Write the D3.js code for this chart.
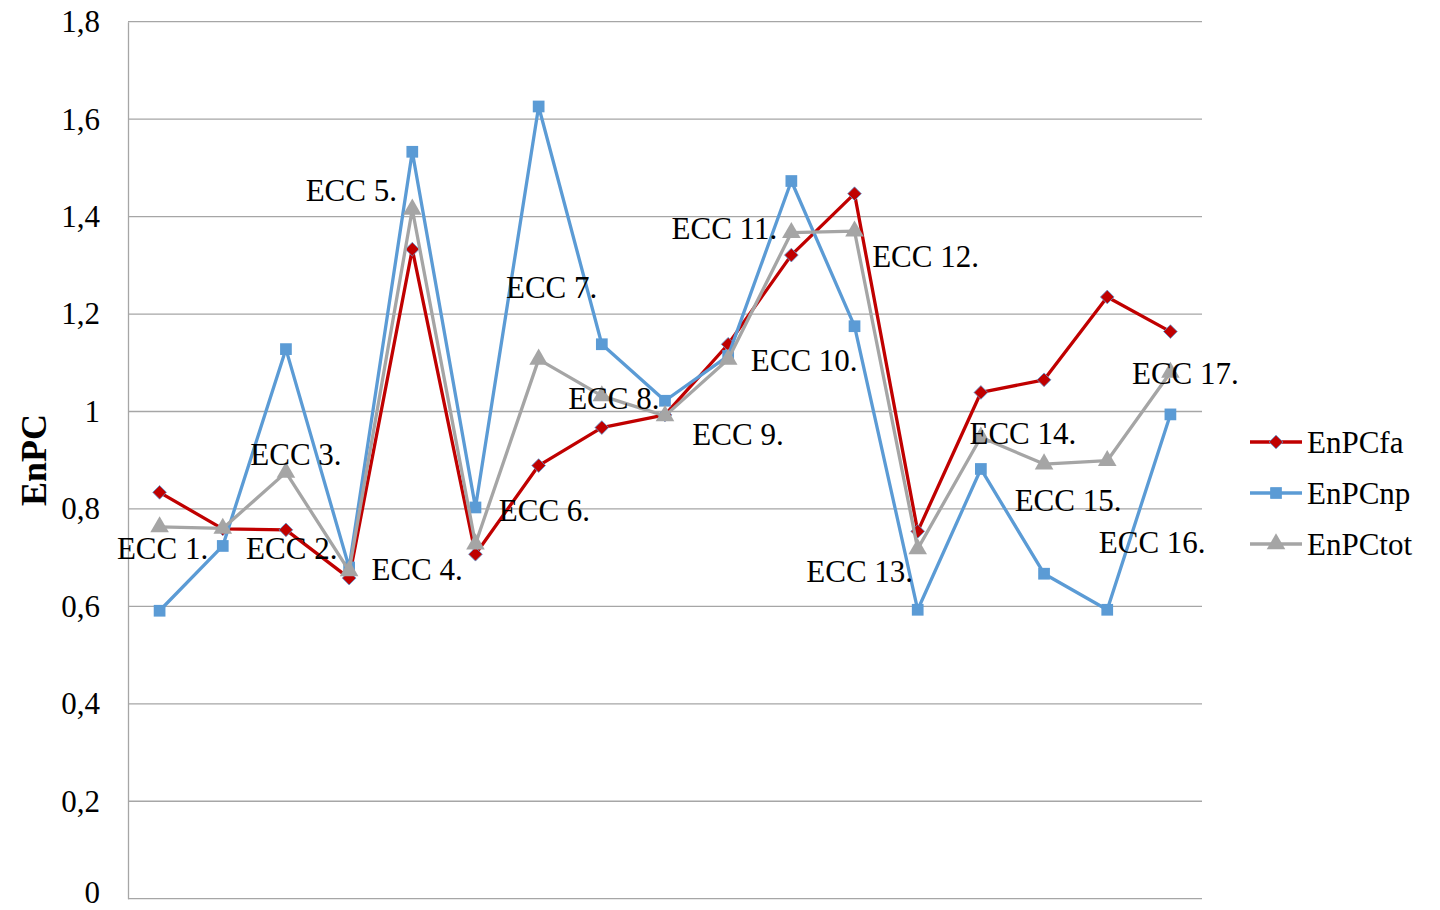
<!DOCTYPE html>
<html>
<head>
<meta charset="utf-8">
<script src="https://cdn.jsdelivr.net/npm/d3@7"></script>
<style>
  html, body { margin: 0; padding: 0; background: #fff; }
  svg { display: block; font-family: "Liberation Serif", "Times New Roman", serif; }
</style>
</head>
<body>
<svg id="chart" width="1440" height="910"></svg>
<script>
// Categories and the three EnPC series
const categories = ["ECC 1.", "ECC 2.", "ECC 3.", "ECC 4.", "ECC 5.", "ECC 6.", "ECC 7.", "ECC 8.", "ECC 9.",
  "ECC 10.", "ECC 11.", "ECC 12.", "ECC 13.", "ECC 14.", "ECC 15.", "ECC 16.", "ECC 17."];
const enpcFa  = [0.834, 0.759, 0.757, 0.658, 1.333, 0.707, 0.889, 0.967, 0.993, 1.138, 1.321, 1.447, 0.754, 1.039, 1.065, 1.235, 1.164];
const enpcNp  = [0.591, 0.724, 1.128, 0.680, 1.533, 0.803, 1.626, 1.138, 1.022, 1.114, 1.473, 1.175, 0.593, 0.882, 0.667, 0.593, 0.994];
const enpcTot = [0.763, 0.760, 0.875, 0.673, 1.415, 0.728, 1.107, 1.032, 0.991, 1.107, 1.367, 1.370, 0.718, 0.947, 0.892, 0.899, 1.080];
const yTicks = [0, 0.2, 0.4, 0.6, 0.8, 1, 1.2, 1.4, 1.6, 1.8];
const seriesNames = ["EnPCfa", "EnPCnp", "EnPCtot"];

// Label placement (pixel offsets from each category's EnPCtot point)
const labelOffsets = [[3, 22], [69, 20], [10, -18], [68, -1], [-61, -19], [69, -34], [13, -72], [12, 3], [73, 19],
  [76, 1], [-67, -4], [71, 25], [-58, 23], [42, -4], [24, 36], [45, 82], [15, 1]];

const svg = d3.select("#chart");
const plotLeft = 128, plotRight = 1202, plotTop = 21.7, plotBottom = 898.7;

const x = d3.scaleBand().domain(categories).range([plotLeft, plotRight]).padding(0);
const y = d3.scaleLinear().domain([0, 1.8]).range([plotBottom, plotTop]);
const cx = c => x(c) + x.bandwidth() / 2;

const fontSize = 31;

// Horizontal gridlines
svg.append("g")
  .selectAll("line")
  .data(yTicks)
  .join("line")
  .attr("x1", plotLeft).attr("x2", plotRight)
  .attr("y1", d => y(d)).attr("y2", d => y(d))
  .attr("stroke", "#a6a6a6").attr("stroke-width", 1.3);

// Y axis
const yAxis = d3.axisLeft(y).tickValues(yTicks).tickSize(0).tickPadding(28)
  .tickFormat(d => d === 0 ? "0" : (d % 1 === 0 ? String(d) : d3.format(".1f")(d).replace(".", ",")));
const gy = svg.append("g").attr("transform", `translate(${plotLeft},0)`).call(yAxis);
gy.select(".domain").attr("stroke", "#a6a6a6").attr("stroke-width", 1.3);
gy.selectAll("text")
  .attr("font-family", "Liberation Serif, Times New Roman, serif")
  .attr("font-size", fontSize).attr("fill", "#000");
// keep the bottom tick label inside the page
gy.selectAll(".tick").filter(d => d === 0).select("text").attr("dy", "0.12em");

// Y axis title
svg.append("text")
  .attr("transform", `translate(46,460) rotate(-90)`)
  .attr("text-anchor", "middle")
  .attr("font-size", 36).attr("font-weight", "bold").attr("fill", "#000")
  .text("EnPC");

const series = [
  { name: seriesNames[0], values: enpcFa,  color: "#c00000", symbol: d3.symbolDiamond2, size: 120 },
  { name: seriesNames[1], values: enpcNp,  color: "#5b9bd5", symbol: d3.symbolSquare2,  size: 175 },
  { name: seriesNames[2], values: enpcTot, color: "#a5a5a5", symbol: d3.symbolTriangle, size: 150 }
];

const line = d3.line().x((d, i) => cx(categories[i])).y(d => y(d));

function drawMarker(sel, s) {
  sel.attr("d", d3.symbol().type(s.symbol).size(s.size)())
    .attr("fill", s.color);
  if (s.name === "EnPCfa") sel.attr("stroke", "#5b9bd5").attr("stroke-width", 0.8);
}

series.forEach(s => {
  const g = svg.append("g");
  g.append("path")
    .datum(s.values)
    .attr("d", line)
    .attr("fill", "none")
    .attr("stroke", s.color)
    .attr("stroke-width", 3.3)
    .attr("stroke-linejoin", "round");
  g.selectAll("path.m")
    .data(s.values)
    .join("path")
    .attr("class", "m")
    .attr("transform", (d, i) => `translate(${cx(categories[i])},${y(d)})`)
    .each(function () { drawMarker(d3.select(this), s); });
});

// Category labels
svg.append("g")
  .selectAll("text")
  .data(categories)
  .join("text")
  .attr("x", (d, i) => cx(d) + labelOffsets[i][0])
  .attr("y", (d, i) => y(enpcTot[i]) + labelOffsets[i][1])
  .attr("text-anchor", "middle")
  .attr("dominant-baseline", "central")
  .attr("font-size", fontSize).attr("fill", "#000")
  .text(d => d);

// Legend
const legend = svg.append("g");
series.forEach((s, i) => {
  const ly = 442 + i * 51;
  legend.append("line")
    .attr("x1", 1250).attr("x2", 1302).attr("y1", ly).attr("y2", ly)
    .attr("stroke", s.color).attr("stroke-width", 3.3);
  legend.append("path")
    .attr("transform", `translate(1276,${ly})`)
    .call(sel => drawMarker(sel, s));
  legend.append("text")
    .attr("x", 1307).attr("y", ly)
    .attr("dominant-baseline", "central")
    .attr("font-size", fontSize).attr("fill", "#000")
    .text(s.name);
});
</script>
</body>
</html>
